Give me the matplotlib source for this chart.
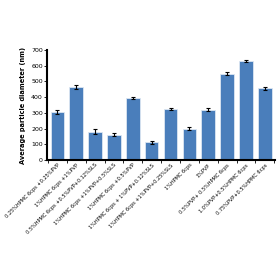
import numpy as np
import matplotlib
matplotlib.use("Agg")
import matplotlib.pyplot as plt

labels = ["0.25%HPMC 6cps +0.25%PVP",
          "1%HPMC 6cps +1%PVP",
          "0.5%HPMC 6cps +0.5%PVP+0.12%SLS",
          "1%HPMC 6cps +1%PVP+0.5%SLS",
          "1%HPMC 6cps +0.5%PVP",
          "1%HPMC 6cps + 1%PVP+0.12%SLS",
          "1%HPMC 6cps +1%PVP+0.25%SLS",
          "1%HPMC 6cps",
          "1%PVP",
          "0.5%PVP+ 0.5%HPMC 6cps",
          "1.0%PVP+0.5%HPMC 6cps",
          "0.75%PVP+0.5%HPMC 6cps"]
sizes = [305, 465, 180, 160, 395, 113, 325, 200, 320, 550, 632, 457]
errs = [15, 10, 15, 10, 8, 10, 8, 8, 8, 8, 8, 10]

fig = plt.figure(figsize=(2.8, 2.8), dpi=100)
ax = fig.add_axes([0.168, 0.429, 0.815, 0.392])

x = np.arange(len(sizes))
ax.bar(x, sizes, width=0.72, color="#4a7ebb", edgecolor="#dce6f2", linewidth=0.6,
       yerr=errs, error_kw=dict(ecolor="black", elinewidth=0.8, capsize=1.5, capthick=0.8))

ax.set_ylim(0, 700)
ax.set_xlim(-0.55, len(sizes) - 0.45)
ax.set_yticks(range(0, 701, 100))
ax.tick_params(axis="y", labelsize=4.5, length=2, width=0.6, pad=1)
ax.set_ylabel("Average particle diameter (nm)", fontsize=4.8, fontweight="bold", labelpad=4)

ax.set_xticks(x)
ax.set_xticklabels(labels, rotation=45, ha="right", rotation_mode="anchor", fontsize=3.6)
ax.tick_params(axis="x", length=0, pad=2)
ax.set_xticks(np.arange(-0.5, len(sizes), 1), minor=True)
ax.tick_params(axis="x", which="minor", length=2, width=0.6)

for s in ["top", "right"]:
    ax.spines[s].set_visible(False)
ax.spines["left"].set_linewidth(1.5)
ax.spines["bottom"].set_linewidth(1.5)

fig.savefig("out.png", dpi=100)
